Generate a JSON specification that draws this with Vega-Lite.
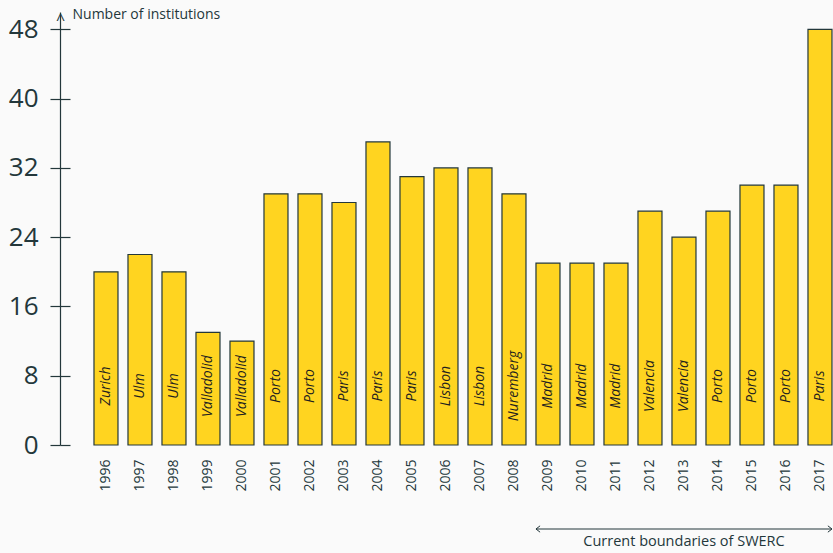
{
  "$schema": "https://vega.github.io/schema/vega-lite/v6.json",
  "width": 773,
  "height": 433,
  "autosize": "none",
  "padding": {"left": 60, "top": 12, "right": 0, "bottom": 108},
  "background": "#fafafa",
  "config": {
    "view": {"stroke": null},
    "font": "Open Sans",
    "axis": {"labelColor": "#23373b", "titleColor": "#23373b", "domainColor": "#23373b", "tickColor": "#23373b", "grid": false}
  },
  "data": {
    "values": [
      {"year": "1996", "count": 20, "city": "Zurich"},
      {"year": "1997", "count": 22, "city": "Ulm"},
      {"year": "1998", "count": 20, "city": "Ulm"},
      {"year": "1999", "count": 13, "city": "Valladolid"},
      {"year": "2000", "count": 12, "city": "Valladolid"},
      {"year": "2001", "count": 29, "city": "Porto"},
      {"year": "2002", "count": 29, "city": "Porto"},
      {"year": "2003", "count": 28, "city": "Paris"},
      {"year": "2004", "count": 35, "city": "Paris"},
      {"year": "2005", "count": 31, "city": "Paris"},
      {"year": "2006", "count": 32, "city": "Lisbon"},
      {"year": "2007", "count": 32, "city": "Lisbon"},
      {"year": "2008", "count": 29, "city": "Nuremberg"},
      {"year": "2009", "count": 21, "city": "Madrid"},
      {"year": "2010", "count": 21, "city": "Madrid"},
      {"year": "2011", "count": 21, "city": "Madrid"},
      {"year": "2012", "count": 27, "city": "Valencia"},
      {"year": "2013", "count": 24, "city": "Valencia"},
      {"year": "2014", "count": 27, "city": "Porto"},
      {"year": "2015", "count": 30, "city": "Porto"},
      {"year": "2016", "count": 30, "city": "Porto"},
      {"year": "2017", "count": 48, "city": "Paris"}
    ]
  },
  "layer": [
    {
      "mark": {"type": "bar", "fill": "#ffd420", "stroke": "#23373b", "strokeWidth": 1.2},
      "encoding": {
        "x": {
          "field": "year", "type": "ordinal", "title": null,
          "scale": {"paddingInner": 0.294, "paddingOuter": 0.5147, "align": 0.971},
          "axis": {"title": null, "labelAngle": 270, "labelFontSize": 14, "labelPadding": 14, "ticks": false, "domain": false}
        },
        "y": {
          "field": "count", "type": "quantitative",
          "scale": {"domain": [0, 50], "nice": false},
          "axis": {
            "values": [0, 8, 16, 24, 32, 40, 48], "tickSize": 10, "tickWidth": 1.2, "domainWidth": 1.2,
            "labelFontSize": 26, "labelPadding": 12,
            "title": "Number of institutions", "titleAngle": 0, "titleAlign": "left", "titleBaseline": "middle",
            "titleX": 12, "titleY": 2, "titleFontSize": 14, "titleFontWeight": "normal"
          }
        }
      }
    },
    {
      "mark": {"type": "text", "angle": 270, "fontStyle": "italic", "fontSize": 14, "color": "#1f1f1f", "align": "center", "baseline": "middle"},
      "encoding": {
        "x": {"field": "year", "type": "ordinal", "title": null},
        "y": {
          "datum": 6.81,
          "axis": {
            "orient": "left", "offset": -10, "domain": false, "labels": false, "ticks": true, "tickSize": 10, "tickWidth": 1.2,
            "values": [0, 8, 16, 24, 32, 40, 48],
            "title": "^", "titleAngle": 0, "titleX": -10, "titleY": -1, "titleAlign": "center", "titleBaseline": "top",
            "titleFontSize": 16, "titleFontWeight": "normal"
          }
        },
        "text": {"field": "city"}
      }
    },
    {
      "data": {"values": [{"from": "2009", "to": "2017", "mid": "2013", "label": "Current boundaries of SWERC"}]},
      "layer": [
        {
          "mark": {"type": "rule", "color": "#23373b", "strokeWidth": 1},
          "encoding": {
            "x": {"field": "from", "type": "ordinal", "bandPosition": 0, "title": null},
            "x2": {"field": "to", "bandPosition": 1},
            "y": {"datum": -9.7, "axis": null}
          }
        },
        {
          "mark": {"type": "point", "shape": "M1.3,-1L0,0L1.3,1", "filled": false, "stroke": "#23373b", "strokeWidth": 1, "size": 40, "opacity": 1},
          "encoding": {
            "x": {"field": "from", "type": "ordinal", "bandPosition": 0, "title": null},
            "y": {"datum": -9.7, "axis": null}
          }
        },
        {
          "mark": {"type": "point", "shape": "M-1.3,-1L0,0L-1.3,1", "filled": false, "stroke": "#23373b", "strokeWidth": 1, "size": 40, "opacity": 1},
          "encoding": {
            "x": {"field": "to", "type": "ordinal", "bandPosition": 1, "title": null},
            "y": {"datum": -9.7, "axis": null}
          }
        },
        {
          "mark": {"type": "text", "fontSize": 14.5, "color": "#23373b", "align": "center", "baseline": "alphabetic"},
          "encoding": {
            "x": {"field": "mid", "type": "ordinal", "title": null},
            "y": {"datum": -11.7, "axis": null},
            "text": {"field": "label"}
          }
        }
      ]
    }
  ],
  "resolve": {"axis": {"y": "independent"}}
}
